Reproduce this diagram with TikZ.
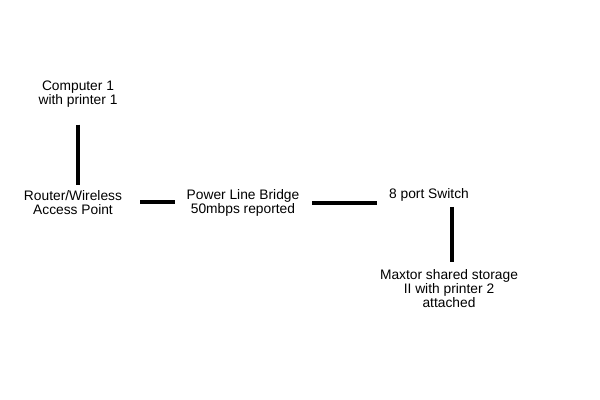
\documentclass[tikz,border=0pt]{standalone}
\usepackage{fontspec}
\setmainfont{Liberation Sans}

\begin{document}
\begin{tikzpicture}[x=0.025cm, y=-0.025cm, line width=2.8pt,
    every node/.style={align=center, inner sep=0pt, font=\fontsize{9.8}{10}\selectfont}]
    \useasboundingbox (0,0) rectangle (600,400);

    \node (comp) at (78,94) {Computer 1\\with printer 1};
    \node (router) at (73,203) {Router/Wireless\\Access Point};
    \node (bridge) at (243,203) {Power Line Bridge\\50mbps reported};
    \node (switch) at (429,195) {8 port Switch};
    \node (maxtor) at (449,289) {Maxtor shared storage\\II with printer 2\\attached};

    \draw[shorten <=11pt, shorten >=3pt] (comp.south) -- (comp.south |- router.north);
    \draw[shorten <=11.5pt, shorten >=7pt] ([yshift=0.7pt]router.east) -- ([yshift=0.7pt]router.east -| bridge.west);
    \draw[shorten <=7.8pt, shorten >=7pt] (bridge.east) -- (bridge.east -| switch.west);
    \draw[shorten <=2.5pt, shorten >=4pt] ([xshift=16.3pt]switch.south) -- ([xshift=16.3pt]switch.south |- maxtor.north);
\end{tikzpicture}
\end{document}
